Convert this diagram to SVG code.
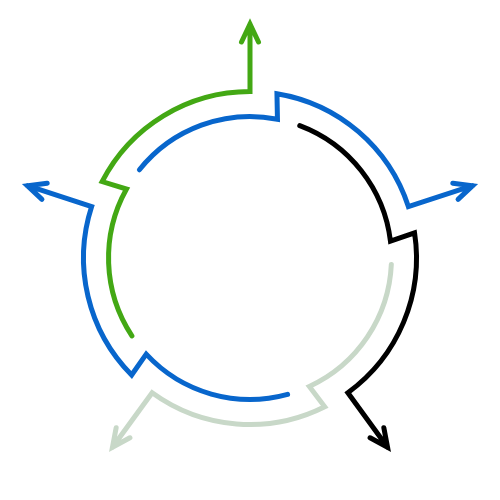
<svg xmlns="http://www.w3.org/2000/svg" xmlns:xlink="http://www.w3.org/1999/xlink" width="500" height="500" viewBox="0 0 500 500">
<style>
.seg{fill:none;stroke-width:5;stroke-linecap:round;stroke-linejoin:miter;stroke-miterlimit:10}
</style>
<defs>
<path id="segShape" d="M131.9,335.9 A141.5,141.5 0 0,1 126.5,189.0 L102.1,181.6 A166.5,166.5 0 0,1 250,91.5 L250,24 M241.5,42 L250,24 L258.5,42"/>
</defs>
<rect width="500" height="500" fill="#ffffff"/>
<g id="connectors">
<g id="node-green"><use xlink:href="#segShape" href="#segShape" class="seg" stroke="#43a814"/></g>
<g id="node-blue-right"><use xlink:href="#segShape" href="#segShape" class="seg" stroke="#0866cc" transform="rotate(72 250 258)"/></g>
<g id="node-black"><use xlink:href="#segShape" href="#segShape" class="seg" stroke="#000000" transform="rotate(144 250 258)"/></g>
<g id="node-lightgreen"><use xlink:href="#segShape" href="#segShape" class="seg" stroke="#c8d8c8" transform="rotate(216 250 258)"/></g>
<g id="node-blue-left"><use xlink:href="#segShape" href="#segShape" class="seg" stroke="#0866cc" transform="rotate(288 250 258)"/></g>
</g>
</svg>
